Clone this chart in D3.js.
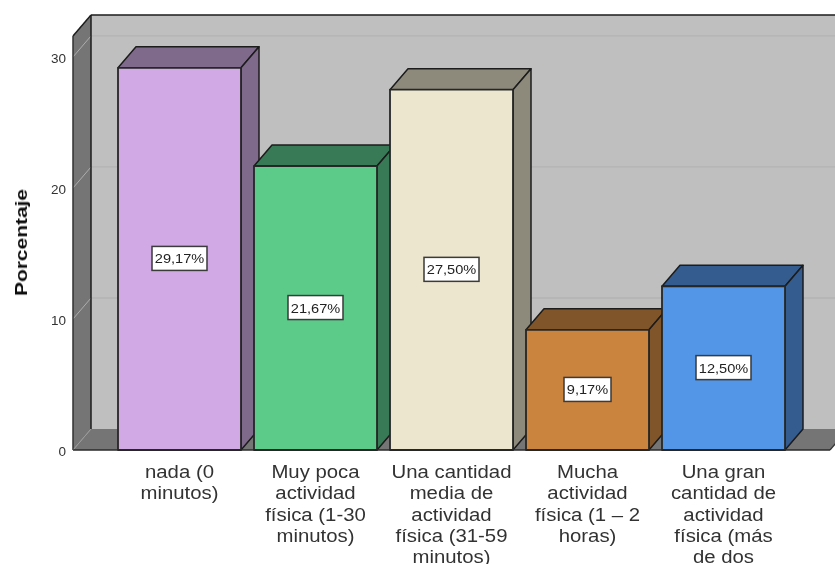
<!DOCTYPE html>
<html><head><meta charset="utf-8">
<script src="https://cdn.jsdelivr.net/npm/d3@7"></script>
<style>html,body{margin:0;padding:0;background:#fff;overflow:hidden}svg{display:block}text{font-family:"Liberation Sans",Arial,sans-serif}</style>
</head><body><div id="c"></div>
<script>
const categories = ["nada (0 minutos)","Muy poca actividad física (1-30 minutos)","Una cantidad media de actividad física (31-59 minutos)","Mucha actividad física (1 – 2 horas)","Una gran cantidad de actividad física (más de dos"];
const categoryLines = [["nada (0","minutos)"],["Muy poca","actividad","física (1-30","minutos)"],["Una cantidad","media de","actividad","física (31-59","minutos)"],["Mucha","actividad","física (1 – 2","horas)"],["Una gran","cantidad de","actividad","física (más","de dos"]];
const values = [29.17,21.67,27.5,9.17,12.5];
const valueLabels = ["29,17%","21,67%","27,50%","9,17%","12,50%"];
const frontColors = ["#D0A9E5","#5BCB8A","#ECE6CF","#CB843E","#5295E6"];
const sideColors = ["#806A8C","#377A55","#8D8A7C","#80552B","#345C8E"];
const yTicks = [0,10,20,30];
const yTitle = "Porcentaje";

const W=835,H=564, dx=18, dy=-21, ink="#1c1c1c";
const x=d3.scaleBand().domain(categories).range([118,785]).paddingInner(13/136).paddingOuter(0);
const y=d3.scaleLinear().domain([0,31.6]).range([450,36]);
const L=73,R=830,B=y(0),T=y(31.6);
const svg=d3.select("#c").append("svg").attr("width",W).attr("height",H);
const defs=svg.append("defs");
defs.append("filter").attr("id","soft").attr("filterUnits","userSpaceOnUse").attr("x",0).attr("y",0).attr("width",W).attr("height",H)
  .append("feGaussianBlur").attr("stdDeviation",0.45);
const g=svg.append("g").attr("filter","url(#soft)");
const poly=(pts,fill,stroke,sw)=>g.append("polygon").attr("points",pts.map(p=>p.join(",")).join(" ")).attr("fill",fill).attr("stroke",stroke||"none").attr("stroke-width",sw||0).attr("stroke-linejoin","round");
const line=(x1,y1,x2,y2,c,w)=>g.append("line").attr("x1",x1).attr("y1",y1).attr("x2",x2).attr("y2",y2).attr("stroke",c).attr("stroke-width",w);

// walls
poly([[L+dx,T+dy],[R+dx,T+dy],[R+dx,B+dy],[L+dx,B+dy]],"#BFBFBF");
poly([[L,T],[L+dx,T+dy],[L+dx,B+dy],[L,B]],"#757575");
poly([[L,B],[L+dx,B+dy],[R+dx,B+dy],[R,B]],"#757575");
// gridlines
yTicks.filter(t=>t>0).forEach(t=>{
  line(L,y(t),L+dx,y(t)+dy,"#ADADAD",1);
  line(L+dx,y(t)+dy,W,y(t)+dy,"#B3B3B3",1.3);
});
line(L+dx,T+dy,W,T+dy,ink,1.5);
line(L,T,L+dx,T+dy,ink,1.5);
line(L+dx,T+dy,L+dx,B+dy,ink,1.5);
line(L,T,L,B,"#333",1.5);
line(R,B,R+dx,B+dy,"#333",1.2);
line(L,B,L+dx,B+dy,"#9a9a9a",1);

// bars
categories.forEach((c,i)=>{
  const x0=x(c),x1=x0+x.bandwidth(),yt=y(values[i]);
  poly([[x0,yt],[x0+dx,yt+dy],[x1+dx,yt+dy],[x1,yt]],sideColors[i],ink,1.5);
  poly([[x1,yt],[x1+dx,yt+dy],[x1+dx,B+dy],[x1,B]],sideColors[i],ink,1.5);
  poly([[x0,yt],[x1,yt],[x1,B],[x0,B]],frontColors[i],"#262626",1.8);
});
line(L,B,R,B,"#2a2a2a",1.5);

// value labels
categories.forEach((c,i)=>{
  const cx=x(c)+x.bandwidth()/2, cy=y(values[i]/2);
  const w=valueLabels[i].length===5?47:55;
  g.append("rect").attr("x",cx-w/2).attr("y",cy-12.5).attr("width",w).attr("height",24).attr("fill","#fff").attr("stroke","#3a3a3a").attr("stroke-width",1.5);
  g.append("text").attr("transform",`translate(${cx},${cy+4.5}) scale(1.08,1)`).attr("text-anchor","middle").attr("font-size",13.5).attr("fill","#222").text(valueLabels[i]);
});

// y axis
const ax=g.append("g").attr("transform",`translate(${L-7},0)`).call(d3.axisLeft(y).tickValues(yTicks).tickSize(0).tickPadding(0));
ax.select(".domain").remove();
ax.selectAll("text").attr("font-size",13.5).attr("fill","#333").attr("font-family","Liberation Sans, Arial, sans-serif").attr("dy","0.4em");
g.append("text").attr("transform","translate(27,242.5) rotate(-90) scale(1.27,1)").attr("text-anchor","middle").attr("font-size",16.5).attr("font-weight","bold").attr("fill","#111").text(yTitle);

// category labels
categories.forEach((c,i)=>{
  const cx=x(c)+x.bandwidth()/2;
  categoryLines[i].forEach((s,k)=>{
    g.append("text").attr("transform",`translate(${cx},${478+k*21.3}) scale(1.1,1)`).attr("text-anchor","middle").attr("font-size",18.5).attr("fill","#333").text(s);
  });
});
</script></body></html>
